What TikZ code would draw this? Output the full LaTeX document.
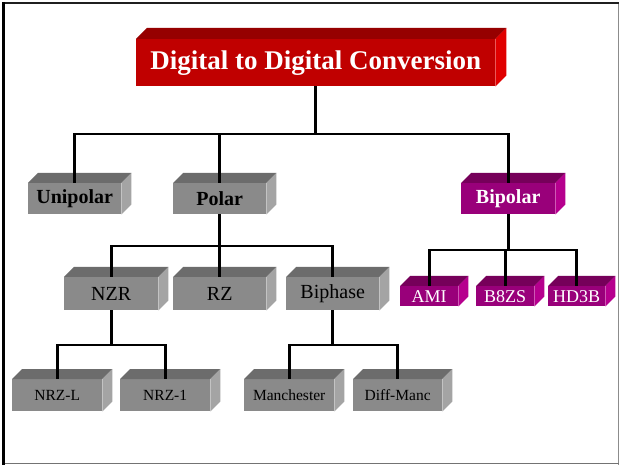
\documentclass[tikz,border=0pt]{standalone}
\usepackage{fontspec}
\setmainfont{Liberation Serif}
\definecolor{redfrontc}{RGB}{192,0,0}
\definecolor{redtopc}{RGB}{150,0,0}
\definecolor{redsidec}{RGB}{224,0,0}
\definecolor{greyfrontc}{RGB}{138,138,138}
\definecolor{greytopc}{RGB}{108,108,108}
\definecolor{greysidec}{RGB}{164,164,164}
\definecolor{plumfrontc}{RGB}{153,0,122}
\definecolor{plumtopc}{RGB}{118,0,90}
\definecolor{plumsidec}{RGB}{182,0,142}
\tikzset{
  redfront/.style={fill=redfrontc, text=white, font=\bfseries\fontsize{27}{30}\selectfont},
  redtop/.style={fill=redtopc},
  redside/.style={fill=redsidec},
  greyfront/.style={fill=greyfrontc, text=black},
  greytop/.style={fill=greytopc},
  greyside/.style={fill=greysidec},
  plumfront/.style={fill=plumfrontc, text=white},
  plumtop/.style={fill=plumtopc},
  plumside/.style={fill=plumsidec},
  boldlabel/.style={font=\bfseries\fontsize{20}{22}\selectfont},
  midlabel/.style={font=\fontsize{20}{22}\selectfont},
  smalllabel/.style={font=\fontsize{18}{20}\selectfont},
  tinylabel/.style={font=\fontsize{15.5}{18}\selectfont},
  wire/.style={draw=black, line width=2.7pt},
}
% \slab{name}{colour family}{left}{top}{width}{height}{depth}{options}{text}
\newcommand\slab[9]{%
  \node[#2front, #8, inner sep=0pt, anchor=north west,
        minimum width=#5pt, minimum height=#6pt] (#1) at (#3,#4) {#9};
  \fill[#2top] (#1.north west) -- ++(#7,-#7)
      -- ([xshift=#7pt,yshift=#7pt]#1.north east) -- (#1.north east) -- cycle;
  \fill[#2side] (#1.north east) -- ++(#7,-#7)
      -- ([xshift=#7pt,yshift=#7pt]#1.south east) -- (#1.south east) -- cycle;
}
\begin{document}
\begin{tikzpicture}[x=1pt, y=-1pt]
\useasboundingbox (0,0) rectangle (619,465);
\fill[white] (0,0) rectangle (619,465);

% frame
\fill[black!88] (2,2) rectangle (619,4.5);
\fill[black] (2,2) rectangle (5,465);
\draw[black!45, line width=1pt] (618,4.5) -- (618,465);
\draw[black!55, line width=1.6pt] (5,463.6) -- (619,463.6);

% title
\slab{title}{red}{136}{39}{359}{47}{11}{}{Digital to Digital Conversion}

% line codes
\slab{uni}{grey}{28}{183}{93}{31}{10}{boldlabel}{Unipolar}
\slab{polar}{grey}{173}{183}{93}{31}{10}{boldlabel}{Polar}
\slab{bipolar}{plum}{461}{183}{94}{31}{10}{boldlabel}{Bipolar}

% polar family
\slab{nzr}{grey}{64}{277}{94}{33}{10}{midlabel}{NZR}
\slab{rz}{grey}{173}{277}{93}{33}{10}{midlabel}{RZ}
\slab{biphase}{grey}{286}{277}{93}{33}{10}{midlabel}{Biphase}

% bipolar family
\slab{ami}{plum}{400}{286}{58}{20}{10}{smalllabel}{AMI}
\slab{bez}{plum}{476}{286}{58}{20}{10}{smalllabel}{B8ZS}
\slab{hdb}{plum}{548}{286}{57}{20}{10}{smalllabel}{HD3B}

% bottom row
\slab{nrzl}{grey}{12}{379}{90}{32}{10}{tinylabel}{NRZ-L}
\slab{nrzi}{grey}{120}{379}{90}{32}{10}{tinylabel}{NRZ-1}
\slab{manch}{grey}{244}{379}{90}{32}{10}{tinylabel}{Manchester}
\slab{dmanch}{grey}{353}{379}{89}{32}{10}{tinylabel}{Diff-Manc}

% junctions
\coordinate (j0) at (title.south |- 0,134);
\coordinate (j1) at (polar.south |- 0,246);
\coordinate (j2) at (bipolar.south |- 0,250);
\coordinate (j3) at (nzr.south |- 0,345);
\coordinate (j4) at (biphase.south |- 0,345);

% connectors
\draw[wire] (title.south) -- (j0);
\draw[wire] (j0) -| (uni.north);
\draw[wire] (j0) -| (polar.north);
\draw[wire] (j0) -| (bipolar.north);

\draw[wire] (polar.south) -- (j1);
\draw[wire] (j1) -| (nzr.north);
\draw[wire] (j1) -| (rz.north);
\draw[wire] (j1) -| (biphase.north);

\draw[wire] (bipolar.south) -- (j2);
\draw[wire] (j2) -| (ami.north);
\draw[wire] (j2) -| (bez.north);
\draw[wire] (j2) -| (hdb.north);

\draw[wire] (nzr.south) -- (j3);
\draw[wire] (j3) -| (nrzl.north);
\draw[wire] (j3) -| (nrzi.north);

\draw[wire] (biphase.south) -- (j4);
\draw[wire] (j4) -| (manch.north);
\draw[wire] (j4) -| (dmanch.north);
\end{tikzpicture}
\end{document}
